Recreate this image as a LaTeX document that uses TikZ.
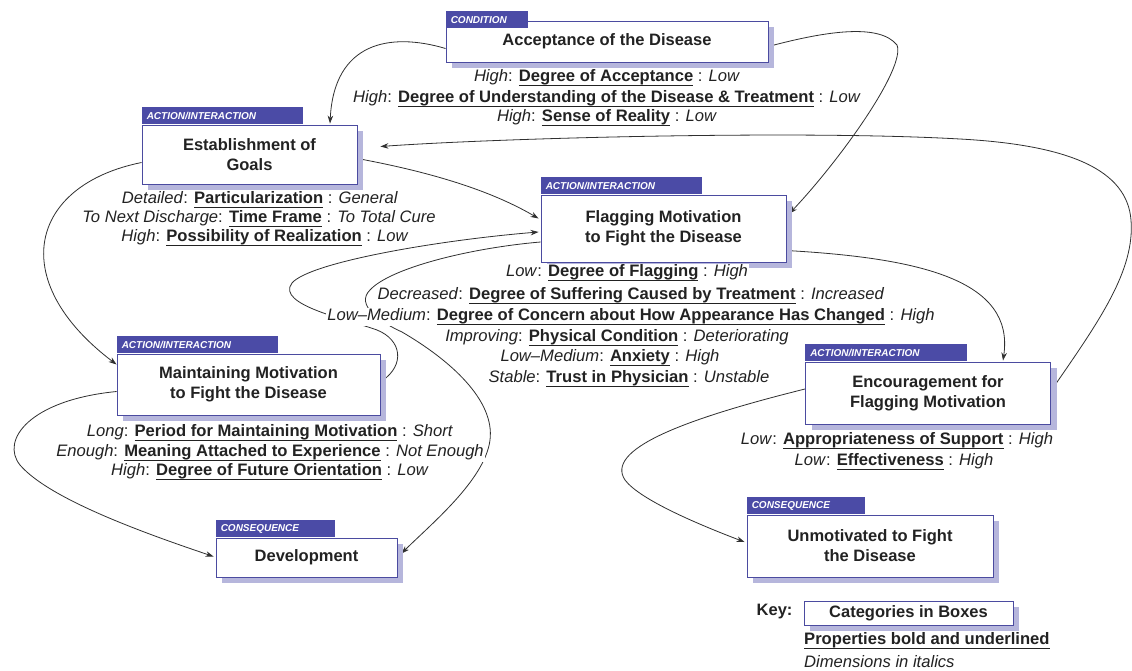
\documentclass[tikz,border=0pt]{standalone}
\usepackage{fontspec}
\setmainfont{Liberation Sans}
\usetikzlibrary{arrows.meta,calc,backgrounds,shadows}

\definecolor{bdr}{HTML}{4B4BA0}
\definecolor{tabc}{HTML}{4B4BA6}
\definecolor{shad}{HTML}{B6B6DC}
\definecolor{ink}{HTML}{222222}
\definecolor{wire}{HTML}{303030}

\newcommand{\titlefont}{\fontsize{16.5}{20}\selectfont\bfseries}
\newcommand{\propfont}{\fontsize{16.6}{20}\selectfont}
\newcommand{\tabfont}{\fontsize{10}{12}\selectfont\bfseries\itshape}

% bold property with a solid underline
\newsavebox{\propbox}
\newcommand{\propul}[1]{\sbox{\propbox}{\textbf{#1}}\leavevmode\rlap{\vrule height -3.2pt depth 4.6pt width \wd\propbox}\usebox{\propbox}}
% dimension : property : dimension
\newcommand{\prop}[3]{\textit{#1}: \propul{#2} : \textit{#3}}

\tikzset{
  catbox/.style={draw=bdr, line width=0.9pt, fill=white, align=center,
    font=\titlefont, text=ink, inner sep=2pt,
    drop shadow={shadow xshift=6pt, shadow yshift=-6pt, fill=shad, opacity=1}},
  cattab/.style={fill=tabc, text=white, font=\tabfont, anchor=south west,
    inner xsep=5pt, inner ysep=0pt, minimum height=17pt, align=left},
  propline/.style={font=\propfont, text=ink, fill=white, inner sep=1pt},
  link/.style={draw=wire, line width=0.8pt, -{Stealth[length=8pt,width=5.5pt]}},
}

\begin{document}
\begin{tikzpicture}[x=1pt, y=-1pt]
\useasboundingbox (0,0) rectangle (1132,670);

% ---------- categories ----------
\node[catbox, minimum width=322pt, minimum height=41pt] (acc) at (607,41.5) {Acceptance of the Disease};
\node[cattab, text width=72pt] (acctab) at ($(acc.north west)+(0,8)$) {CONDITION};

\node[catbox, minimum width=215pt, minimum height=59pt] (est) at (249.5,154.5) {Establishment of\\Goals};
\node[cattab, text width=151pt] (esttab) at (est.north west) {ACTION/INTERACTION};

\node[catbox, minimum width=245pt, minimum height=67pt] (flag) at (663.5,228.5) {Flagging Motivation\\to Fight the Disease};
\node[cattab, text width=151pt] (flagtab) at (flag.north west) {ACTION/INTERACTION};

\node[catbox, minimum width=263pt, minimum height=61pt] (maint) at (248.5,384.5) {Maintaining Motivation\\to Fight the Disease};
\node[cattab, text width=151pt] (mainttab) at (maint.north west) {ACTION/INTERACTION};

\node[catbox, minimum width=181pt, minimum height=39pt] (dev) at (306.5,557.5) {Development};
\node[cattab, text width=109pt] (devtab) at (dev.north west) {CONSEQUENCE};

\node[catbox, minimum width=245pt, minimum height=62pt] (enc) at (928,393) {Encouragement for\\Flagging Motivation};
\node[cattab, text width=152pt] (enctab) at (enc.north west) {ACTION/INTERACTION};

\node[catbox, minimum width=246pt, minimum height=62pt] (unmot) at (870,546) {Unmotivated to Fight\\the Disease};
\node[cattab, text width=108pt] (unmottab) at (unmot.north west) {CONSEQUENCE};

% ---------- properties and dimensions ----------
\node[propline] (acc1) at (607,78)  {\prop{High}{Degree of Acceptance}{Low}};
\node[propline] (acc2) at (607,99)  {\prop{High}{Degree of Understanding of the Disease \& Treatment}{Low}};
\node[propline] (acc3) at (607,118) {\prop{High}{Sense of Reality}{Low}};

\node[propline] (est1) at (260,200) {\prop{Detailed}{Particularization}{General}};
\node[propline] (est2) at (259,219) {\prop{To Next Discharge}{Time Frame}{To Total Cure}};
\node[propline] (est3) at (265,238) {\prop{High}{Possibility of Realization}{Low}};

\node[propline] (flag1) at (627,273) {\prop{Low}{Degree of Flagging}{High}};
\node[propline] (flag2) at (631,296) {\prop{Decreased}{Degree of Suffering Caused by Treatment}{Increased}};
\node[propline] (flag3) at (631,317) {\prop{Low–Medium}{Degree of Concern about How Appearance Has Changed}{High}};
\node[propline] (flag4) at (617,338) {\prop{Improving}{Physical Condition}{Deteriorating}};
\node[propline] (flag5) at (610,358) {\prop{Low–Medium}{Anxiety}{High}};
\node[propline] (flag6) at (629,379) {\prop{Stable}{Trust in Physician}{Unstable}};

\node[propline] (maint1) at (270,433) {\prop{Long}{Period for Maintaining Motivation}{Short}};
\node[propline] (maint2) at (270,453) {\prop{Enough}{Meaning Attached to Experience}{Not Enough}};
\node[propline] (maint3) at (270,472) {\prop{High}{Degree of Future Orientation}{Low}};

\node[propline] (enc1) at (897,441) {\prop{Low}{Appropriateness of Support}{High}};
\node[propline] (enc2) at (894,462) {\prop{Low}{Effectiveness}{High}};

% ---------- key ----------
\node[catbox, minimum width=209pt, minimum height=24pt, inner sep=1pt] (keybox) at (908.5,613) {Categories in Boxes};
\node[font=\titlefont, text=ink, anchor=east] (keylabel) at (796,612) {Key:};
\node[font=\propfont, text=ink, anchor=west, inner sep=0pt] (keyprop) at (804,641) {\propul{Properties bold and underlined}};
\node[font=\propfont, text=ink, anchor=west, inner sep=0pt] (keydim) at (804,662) {\textit{Dimensions in italics}};

% ---------- links ----------
\begin{scope}[on background layer]
\fill[white] (0,0) rectangle (1132,670);

% acceptance -> establishment of goals
\draw[link] ($(acc.west)+(0,7)$) .. controls (390,32) and (334,42) .. ($(est.north)+(80.5,-1)$);
% acceptance -> flagging motivation
\draw[link] ($(acc.east)+(0,5)$) .. controls (830,30) and (880,24) .. (897,45)
  .. controls (906,68) and (840,160) .. ($(flag.east)+(3,-15)$);
% encouragement -> establishment of goals (outer loop)
\draw[link] ($(enc.east)+(2,-5)$) .. controls (1100,320) and (1135,270) .. (1131,220)
  .. controls (1127,170) and (1070,145) .. (960,139)
  .. controls (800,130) and (500,138) .. ($(est.east)+(23,-8)$);
% establishment of goals -> flagging motivation
\draw[link] ($(est.east)+(0,4)$) .. controls (430,172) and (490,190) .. ($(flag.west)+(-2,-10)$);
% establishment of goals -> maintaining motivation
\draw[link] ($(est.west)+(0,8)$) .. controls (30,185) and (5,280) .. ($(maint.west)+(0,-20)$);
% maintaining motivation -> development
\draw[link] ($(maint.west)+(0,7)$) .. controls (30,400) and (0,440) .. (20,465)
  .. controls (50,500) and (150,535) .. ($(dev.west)+(-2,-1)$);
% flagging motivation -> encouragement
\draw[link] ($(flag.east)+(0,22)$) .. controls (920,258) and (1015,280) .. ($(enc.north)+(75,-1)$);
% encouragement -> unmotivated
\draw[link] ($(enc.west)+(0,-4)$) .. controls (680,420) and (605,450) .. (625,480)
  .. controls (640,500) and (700,525) .. ($(unmot.west)+(-2,-4)$);
% maintaining motivation -> flagging motivation
\draw[link] ($(maint.east)+(2,-4)$) .. controls (405,365) and (402,340) .. (377,330)
  .. controls (350,320) and (275,305) .. (292,283)
  .. controls (310,262) and (440,240) .. ($(flag.west)+(-2,3.5)$);
% flagging motivation -> development
\draw[link] ($(flag.west)+(0,13.5)$) .. controls (470,248) and (390,268) .. (370,290)
  .. controls (355,305) and (380,322) .. (402,332)
  .. controls (450,360) and (495,400) .. (490,440)
  .. controls (485,480) and (430,525) .. ($(dev.east)+(4,-4)$);
\end{scope}
\end{tikzpicture}
\end{document}
